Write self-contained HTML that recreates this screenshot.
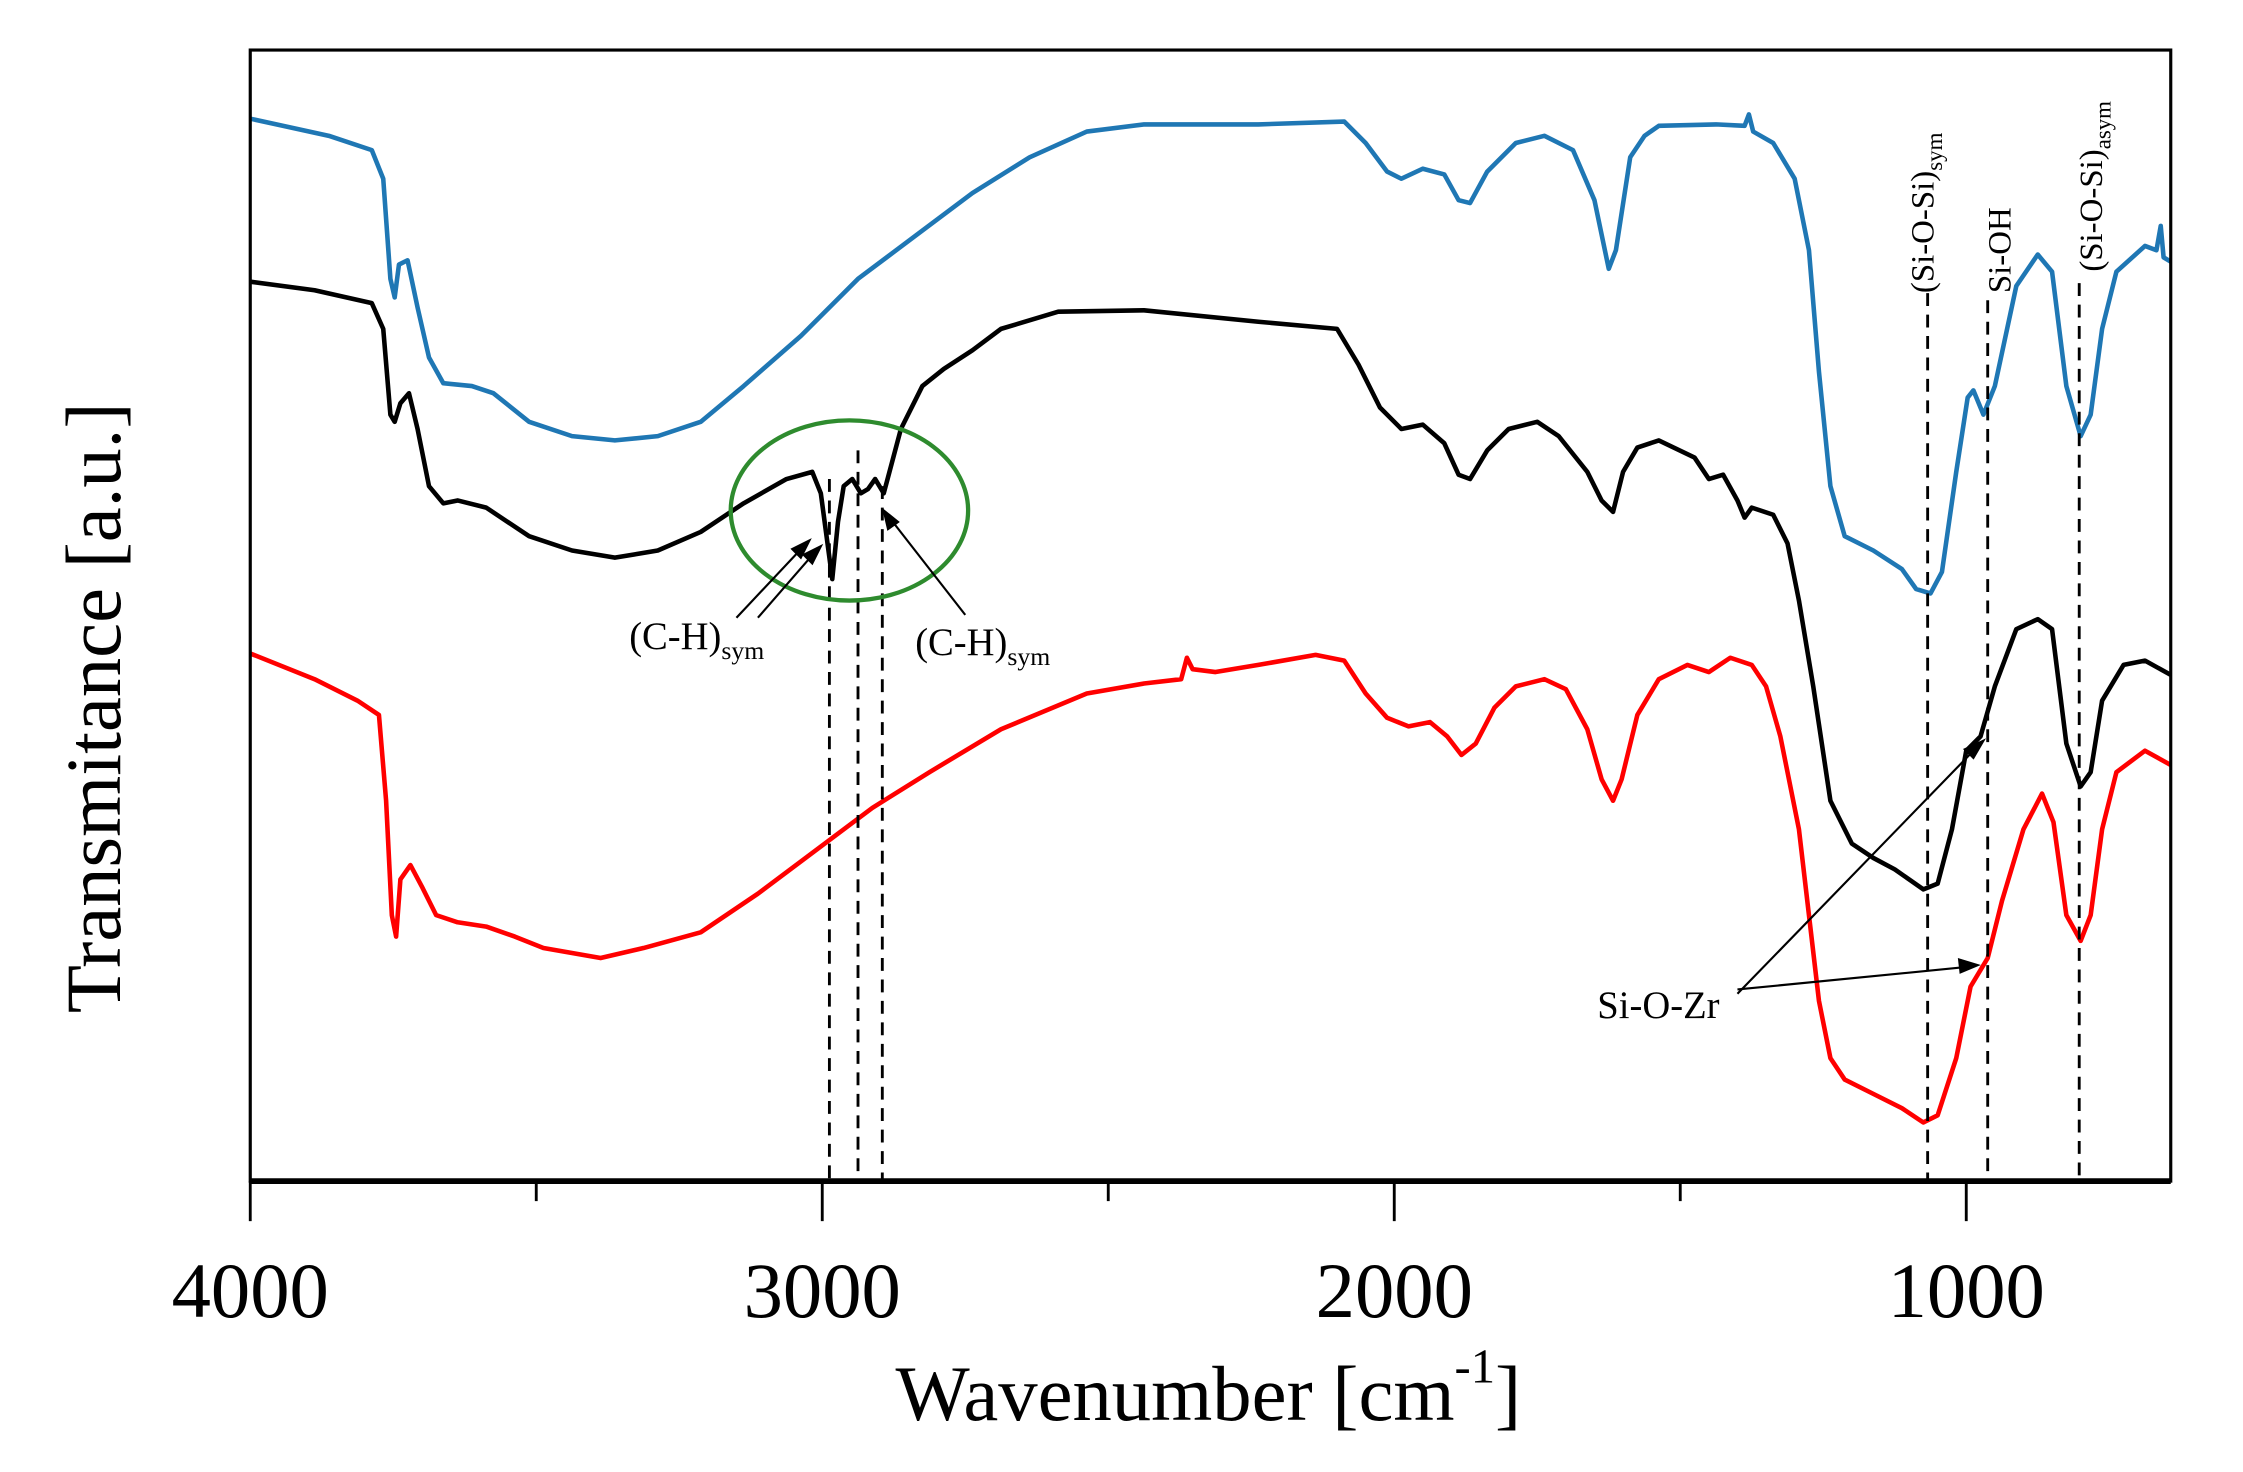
<!DOCTYPE html>
<html><head><style>html,body{margin:0;padding:0;background:#fff}svg{display:block}</style></head>
<body>
<svg width="2243" height="1472" viewBox="0 0 1545 1014" preserveAspectRatio="none" xmlns="http://www.w3.org/2000/svg" font-family="Liberation Serif, serif">
<rect width="1545" height="1014" fill="#fff"/>
<g transform="scale(0.985)">
<g fill="none" stroke-linejoin="round" stroke-width="3.2">
<polyline stroke="#1f77b4" points="175,83 230,95 260,105 268,125 273,195 276,208 279,185 285,182 292,215 300,250 310,268 330,270 345,275 370,295 400,305 430,308 460,305 490,295 520,270 560,235 600,195 640,165 680,135 720,110 760,92 800,87 880,87 940,85 955,100 970,120 980,125 995,118 1010,122 1020,140 1028,142 1040,120 1060,100 1080,95 1100,105 1115,140 1125,188 1130,175 1140,110 1150,95 1160,88 1200,87 1220,88 1223,80 1226,92 1240,100 1255,125 1265,175 1272,260 1280,340 1290,375 1310,385 1330,398 1340,412 1350,415 1358,400 1368,330 1376,278 1380,273 1387,290 1395,270 1410,200 1425,178 1435,190 1445,270 1455,305 1462,290 1470,230 1480,190 1500,172 1508,175 1511,158 1513,180 1518,183"/>
<polyline stroke="#000" points="175,197 220,203 260,212 268,230 273,290 276,295 280,282 286,275 292,300 300,340 310,352 320,350 340,355 370,375 400,385 430,390 460,385 490,372 520,352 550,335 568,330 574,345 578,375 582,405 586,365 590,340 596,335 602,345 607,342 612,335 618,345 622,330 630,300 645,270 660,258 680,245 700,230 740,218 800,217 880,225 935,230 950,255 965,285 980,300 995,297 1010,310 1020,332 1028,335 1040,315 1055,300 1075,295 1090,305 1110,330 1120,350 1128,358 1135,330 1145,313 1160,308 1185,320 1195,335 1205,332 1215,350 1220,362 1225,355 1240,360 1250,380 1258,420 1268,480 1280,560 1295,590 1310,600 1325,608 1335,615 1345,622 1355,618 1365,580 1375,525 1385,515 1395,480 1410,440 1425,433 1435,440 1445,520 1455,550 1462,540 1470,490 1485,465 1500,462 1518,472"/>
<polyline stroke="#ff0000" points="175,457 220,475 250,490 265,500 270,560 274,640 277,655 280,615 287,605 295,620 305,640 320,645 340,648 360,655 380,663 420,670 450,663 490,652 530,625 570,595 610,565 650,540 700,510 760,485 800,478 826,475 830,460 834,468 850,470 880,465 920,458 940,462 955,485 970,502 985,508 1000,505 1012,515 1022,528 1032,520 1045,495 1060,480 1080,475 1095,482 1110,510 1120,545 1128,560 1134,545 1145,500 1160,475 1180,465 1195,470 1210,460 1225,465 1235,480 1245,515 1258,580 1265,640 1272,700 1280,740 1290,755 1310,765 1330,775 1345,785 1355,780 1368,740 1378,690 1390,670 1400,630 1415,580 1428,555 1436,575 1445,640 1455,658 1462,640 1470,580 1480,540 1500,525 1518,535"/>
</g>
<g stroke="#000" stroke-width="2" stroke-dasharray="9,6">
<line x1="580" y1="335" x2="580" y2="826"/><line x1="600" y1="315" x2="600" y2="826"/><line x1="617" y1="340" x2="617" y2="826"/>
<line x1="1348" y1="205" x2="1348" y2="826"/><line x1="1390" y1="210" x2="1390" y2="826"/><line x1="1454" y1="198" x2="1454" y2="826"/>
</g>
<ellipse cx="594" cy="357" rx="83" ry="63" fill="none" stroke="#2e8b2e" stroke-width="3"/>
<g stroke="#000" stroke-width="1.5" fill="#000">
<line x1="515" y1="432" x2="562" y2="382"/><polygon points="566,378 554,384 560,390"/>
<line x1="530" y1="432" x2="570" y2="386"/><polygon points="574,382 562,388 568,394"/>
<line x1="675" y1="430" x2="622" y2="362"/><polygon points="618,357 621,370 628,365"/>
<line x1="1215" y1="695" x2="1383" y2="522"/><polygon points="1387,518 1374,524 1380,530"/>
<line x1="1215" y1="692" x2="1378" y2="676"/><polygon points="1383,675 1370,671 1371,680"/>
</g>
<g font-size="27" fill="#000">
<text x="440" y="454">(C-H)<tspan font-size="18" dy="7">sym</tspan></text>
<text x="640" y="458">(C-H)<tspan font-size="18" dy="7">sym</tspan></text>
<text x="1117" y="712">Si-O-Zr</text>
</g>
<g font-size="23" fill="#000">
<text transform="translate(1352,205) rotate(-90)">(Si-O-Si)<tspan font-size="16" dy="6">sym</tspan></text>
<text transform="translate(1406,205) rotate(-90)">Si-OH</text>
<text transform="translate(1470,190) rotate(-90)">(Si-O-Si)<tspan font-size="16" dy="6">asym</tspan></text>
</g>
<rect x="175" y="35" width="1343" height="791" fill="none" stroke="#000" stroke-width="2.2"/>
<line x1="175" y1="826" x2="1518" y2="826" stroke="#000" stroke-width="4"/>
<g stroke="#000" stroke-width="2">
<line x1="175" y1="826" x2="175" y2="854"/><line x1="575" y1="826" x2="575" y2="854"/><line x1="975" y1="826" x2="975" y2="854"/><line x1="1375" y1="826" x2="1375" y2="854"/>
<line x1="375" y1="826" x2="375" y2="840"/><line x1="775" y1="826" x2="775" y2="840"/><line x1="1175" y1="826" x2="1175" y2="840"/>
</g>
<g font-size="55" text-anchor="middle" fill="#000">
<text x="175" y="921">4000</text><text x="575" y="921">3000</text><text x="975" y="921">2000</text><text x="1375" y="921">1000</text>
<text x="845" y="993">Wavenumber [cm<tspan font-size="34" dy="-26">-1</tspan><tspan dy="26">]</tspan></text>
<text transform="translate(84,495) rotate(-90)">Transmitance [a.u.]</text>
</g>
</g>
</svg>
</body></html>
